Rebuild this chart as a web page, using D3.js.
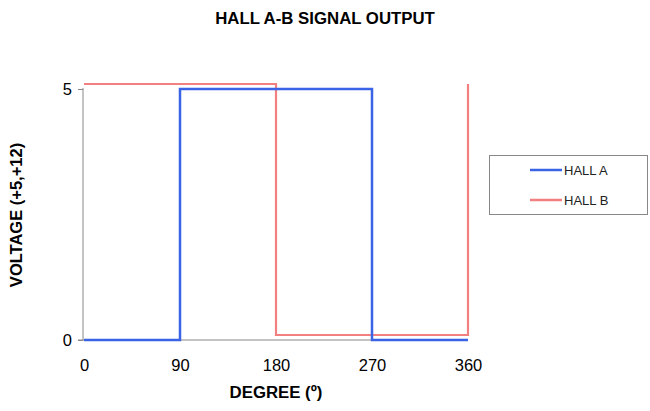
<!DOCTYPE html>
<html><head><meta charset="utf-8">
<script src="https://cdn.jsdelivr.net/npm/d3@7"></script>
<style>body{margin:0;background:#fff;} text{font-family:"Liberation Sans",Arial,sans-serif;}</style>
</head><body><svg id="c" width="650" height="411"></svg>
<script>
const title = "HALL A-B SIGNAL OUTPUT";
const xLabel = "DEGREE (º)";
const yLabel = "VOLTAGE (+5,+12)";
const xTicks = [0, 90, 180, 270, 360];
const yTicks = [0, 5];
const hallADeg = [0, 90, 90, 270, 270, 360];
const hallAVal = [0, 0, 5, 5, 0, 0];
const hallBDeg = [0, 180, 180, 360, 360];
const hallBVal = [5.1, 5.1, 0.1, 0.1, 5.1];
const seriesNames = ["HALL A", "HALL B"];
const colors = ["#3B63E6", "#F28080"];

const svg = d3.select("#c");
const x = d3.scaleLinear().domain([0, 360]).range([84, 468]);
const y = d3.scaleLinear().domain([0, 5]).range([340, 89]);

svg.append("text").attr("x", 325).attr("y", 24).attr("text-anchor", "middle")
  .attr("font-size", 16.8).attr("font-weight", "bold").text(title);

// y axis
const yAx = svg.append("g").attr("transform", "translate(83,0)")
  .call(d3.axisLeft(y).tickValues(yTicks).tickSize(5).tickPadding(6).tickFormat(d3.format("d")));
yAx.select(".domain").attr("stroke", "#888").attr("d", `M0,${y(5)-1}V${y(0)}`);
yAx.selectAll(".tick line").attr("stroke", "#888");
yAx.selectAll("text").attr("font-size", 16.5).attr("fill", "#000").attr("font-family", "Liberation Sans, Arial");

// x axis
const xAx = svg.append("g").attr("transform", `translate(0,${y(0)})`)
  .call(d3.axisBottom(x).tickValues(xTicks).tickSize(0).tickPadding(19).tickFormat(d3.format("d")));
xAx.select(".domain").attr("stroke", "#888").attr("d", `M78,0H${x(360)}`);
xAx.selectAll("text").attr("font-size", 16.5).attr("fill", "#000").attr("font-family", "Liberation Sans, Arial");

svg.append("text").attr("x", 276).attr("y", 398).attr("text-anchor", "middle")
  .attr("font-size", 16.8).attr("font-weight", "bold").text(xLabel);
svg.append("text").attr("transform", "translate(22,215) rotate(-90)").attr("text-anchor", "middle")
  .attr("font-size", 16.5).attr("font-weight", "bold").text(yLabel);

const line = d3.line().x(d => x(d[0])).y(d => y(d[1]));
const dataA = hallADeg.map((d, i) => [d, hallAVal[i]]);
const dataB = hallBDeg.map((d, i) => [d, hallBVal[i]]);
svg.append("path").datum(dataB).attr("d", line).attr("fill", "none").attr("stroke", colors[1]).attr("stroke-width", 2.2);
svg.append("path").datum(dataA).attr("d", line).attr("fill", "none").attr("stroke", colors[0]).attr("stroke-width", 2.5);

// legend
const lg = svg.append("g");
lg.append("rect").attr("x", 489.5).attr("y", 155.5).attr("width", 158).attr("height", 59)
  .attr("fill", "#fff").attr("stroke", "#888");
seriesNames.forEach((n, i) => {
  const yy = 170 + i * 30;
  lg.append("line").attr("x1", 530).attr("x2", 562).attr("y1", yy).attr("y2", yy)
    .attr("stroke", colors[i]).attr("stroke-width", 2.5);
  lg.append("text").attr("x", 564).attr("y", yy + 4.5).attr("font-size", 13).attr("fill", "#222").text(n);
});
</script></body></html>
